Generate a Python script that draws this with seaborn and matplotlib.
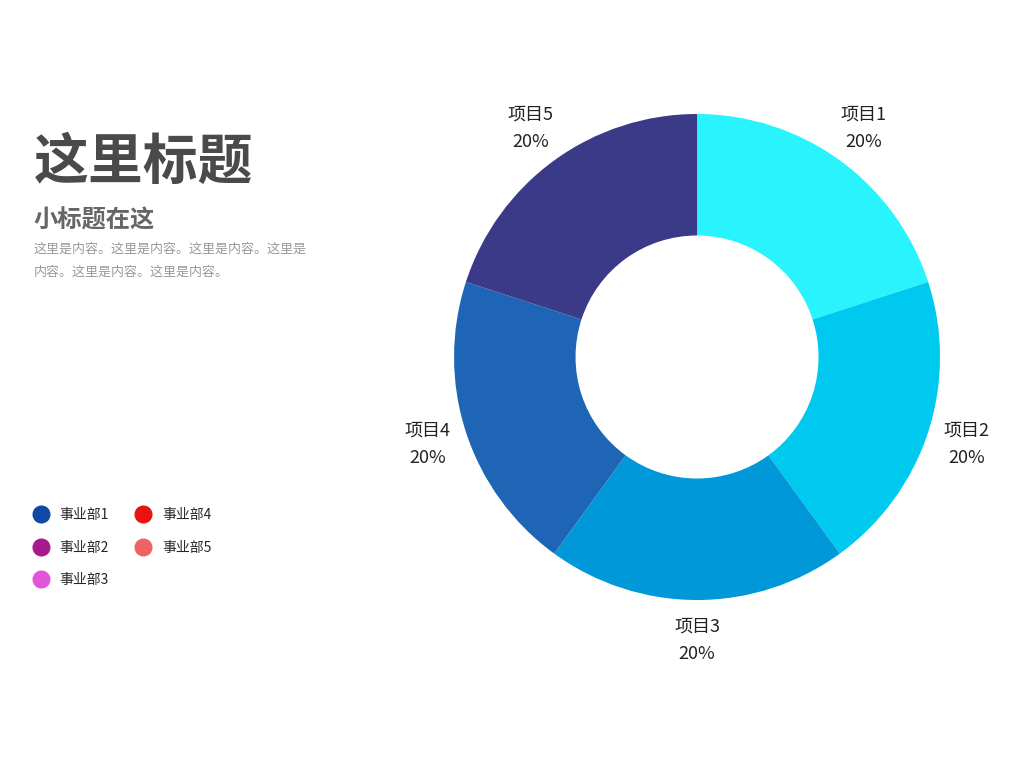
import matplotlib
matplotlib.use("Agg")
import matplotlib.pyplot as plt
import seaborn as sns
from matplotlib.lines import Line2D

# data
items = ["项目1", "项目2", "项目3", "项目4", "项目5"]
shares = [20, 20, 20, 20, 20]
item_colors = ["#29F3FD", "#00C9F0", "#0098D9", "#1E66B5", "#3A3A89"]

departments = ["事业部1", "事业部2", "事业部3", "事业部4", "事业部5"]
dept_colors = ["#0C4AA6", "#A8198E", "#E255D6", "#EA1111", "#F06262"]

title = "这里标题"
subtitle = "小标题在这"
body = "这里是内容。这里是内容。这里是内容。这里是\n内容。这里是内容。这里是内容。"

sns.set_theme(style="white")
plt.rcParams['font.family'] = ['Noto Sans CJK SC', 'DejaVu Sans']

fig = plt.figure(figsize=(10.24, 7.68), dpi=100)
fig.patch.set_facecolor("white")

# donut, centre ~ (697, 357) px, outer radius ~243 px
ax = fig.add_axes([0.3722, 0.1238, 0.617, 0.8227])
wedges, texts = ax.pie(
    shares,
    labels=[f"{n}\n{v}%" for n, v in zip(items, shares)],
    colors=item_colors,
    startangle=90,
    counterclock=False,
    labeldistance=1.165,
    wedgeprops=dict(width=0.5, linewidth=0),
    textprops=dict(fontsize=13, color="#222222"),
)
for t in texts:
    t.set_ha("center")
    t.set_va("center")
    t.set_linespacing(1.7)
ax.set_xlim(-1.3, 1.3)
ax.set_ylim(-1.3, 1.3)
ax.set_aspect("equal")
ax.axis("off")

# texts on the left
fig.text(0.033, 0.788, title, fontsize=39.5, fontweight="bold", color="#4a4a4a",
         ha="left", va="center")
fig.text(0.033, 0.713, subtitle, fontsize=17.5, fontweight="bold", color="#666666",
         ha="left", va="center")
fig.text(0.033, 0.66, body, fontsize=9.4, color="#9a9a9a", ha="left", va="center",
         linespacing=2.0)

# legend
handles = [Line2D([0], [0], marker="o", linestyle="", markersize=12,
                  markerfacecolor=c, markeredgecolor=c) for c in dept_colors]
fig.legend(handles, departments, loc="upper left", bbox_to_anchor=(0.021, 0.355),
           ncol=2, frameon=False, handletextpad=0.85,
           columnspacing=1.95, labelspacing=1.35, handlelength=1.0,
           prop=dict(family=['Noto Sans CJK SC', 'DejaVu Sans'], size=10))

fig.savefig("out.png", dpi=100, facecolor="white")
